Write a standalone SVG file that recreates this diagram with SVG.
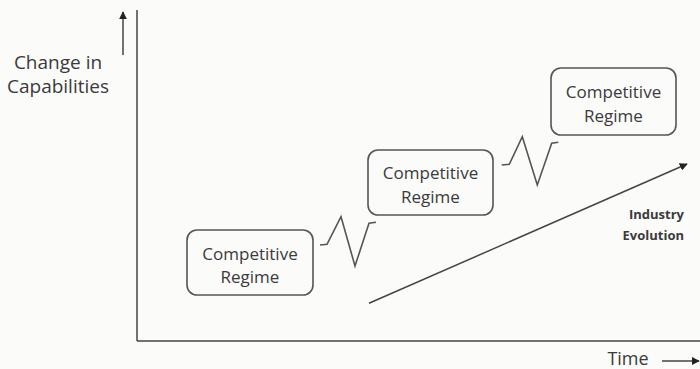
<svg xmlns="http://www.w3.org/2000/svg" width="700" height="369" viewBox="0 0 700 369">
<defs>
<style>
.t{font-family:"Open Sans","DejaVu Sans",sans-serif;fill:#3a3a3a;}
.box{fill:none;stroke:#555;stroke-width:1.6;}
.ln{fill:none;stroke:#444;stroke-width:1.5;}
.zz{fill:none;stroke:#555;stroke-width:1.6;stroke-linejoin:miter;}
</style>
<marker id="ah" viewBox="0 0 10 10" refX="9" refY="5" markerWidth="8" markerHeight="8" markerUnits="userSpaceOnUse" orient="auto">
<path d="M0,0 L10,5 L0,10 z" fill="#222"/>
</marker>
</defs>
<rect width="700" height="369" fill="#fbfbfa"/>
<g id="axes">
<line class="ln" x1="137" y1="10" x2="137" y2="341"/>
<line class="ln" x1="137" y1="341" x2="700" y2="341"/>
</g>
<g id="y-label">
<line class="ln" x1="123" y1="55" x2="123" y2="12" marker-end="url(#ah)"/>
<text class="t" x="58" y="69" font-size="19" text-anchor="middle">Change in</text>
<text class="t" x="58" y="93" font-size="19" text-anchor="middle">Capabilities</text>
</g>
<g id="x-label">
<text class="t" x="628" y="365" font-size="18" text-anchor="middle">Time</text>
<line class="ln" x1="662" y1="361" x2="699" y2="361" marker-end="url(#ah)"/>
</g>
<g id="regime1">
<rect class="box" x="187" y="230" width="126" height="65" rx="10"/>
<text class="t" x="250" y="260" font-size="17" text-anchor="middle">Competitive</text>
<text class="t" x="250" y="283" font-size="17" text-anchor="middle">Regime</text>
</g>
<g id="regime2">
<rect class="box" x="368" y="150" width="125" height="65" rx="10"/>
<text class="t" x="430.5" y="179" font-size="17" text-anchor="middle">Competitive</text>
<text class="t" x="430.5" y="203" font-size="17" text-anchor="middle">Regime</text>
</g>
<g id="regime3">
<rect class="box" x="551" y="68" width="125" height="67" rx="10"/>
<text class="t" x="613.5" y="98" font-size="17" text-anchor="middle">Competitive</text>
<text class="t" x="613.5" y="122" font-size="17" text-anchor="middle">Regime</text>
</g>
<g id="industry-evolution">
<text class="t" x="684" y="219" font-size="13" font-weight="bold" text-anchor="end" fill="#222">Industry</text>
<text class="t" x="684" y="240" font-size="13" font-weight="bold" text-anchor="end" fill="#222">Evolution</text>
</g>
<g id="connectors">
<polyline class="zz" points="320,245 327,244.3 341,216.7 355,266 369,223.3 376,222.3"/>
<polyline class="zz" points="501.7,165 509.3,164.3 522.3,136.7 537.3,185 551.7,143.3 558.3,142.3"/>
<line class="ln" x1="369" y1="303.3" x2="687" y2="164" marker-end="url(#ah)"/>
</g>
</svg>
